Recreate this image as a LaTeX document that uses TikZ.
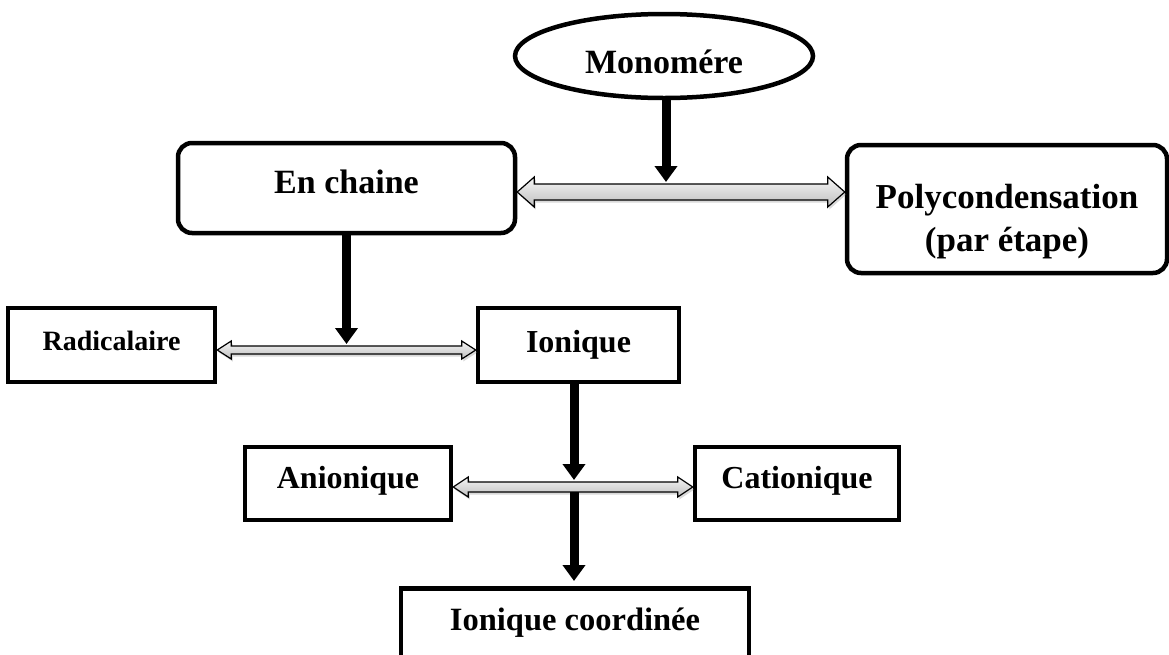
\documentclass[tikz,border=0pt]{standalone}
\usepackage{fontspec}
\setmainfont{Liberation Serif}
\usetikzlibrary{arrows.meta,calc,shapes.geometric,shadows}

% hollow two-headed arrow: left tip, right tip, shaft half, head half, head length
\newcommand{\biarrow}[5]{%
  \path[biarrow] (#1) -- ($(#1)+(#5,-#4)$) -- ($(#1)+(#5,-#3)$)
    -- ($(#2)+(-#5,-#3)$) -- ($(#2)+(-#5,-#4)$) -- (#2)
    -- ($(#2)+(-#5,#4)$) -- ($(#2)+(-#5,#3)$)
    -- ($(#1)+(#5,#3)$) -- ($(#1)+(#5,#4)$) -- cycle;}

\begin{document}
\begin{tikzpicture}[x=1pt,y=-1pt,
    box/.style={draw, line width=4.5pt, inner sep=0pt,
      font=\bfseries\fontsize{32}{38}\selectfont},
    onerow/.style={box, text height=#1, text depth=0pt},
    roundbox/.style={box, rounded corners=14pt},
    bigarrow/.style={line width=9pt, -{Triangle[length=16pt,width=22pt]}},
    biarrow/.style={draw=black, line width=1.2pt, top color=gray!8,
      bottom color=gray!50,
      drop shadow={shadow xshift=1.5pt, shadow yshift=-2.5pt, opacity=.3}}]
    \useasboundingbox (0,0) rectangle (1169,654);

    % Monomer
    \node[onerow=34pt, ellipse, minimum width=298, minimum height=84,
      font=\bfseries\fontsize{34}{40}\selectfont] (mono) at (664,56) {Monomére};

    % First level
    \node[roundbox, onerow=10pt, minimum width=337, minimum height=90,
      font=\bfseries\fontsize{34}{40}\selectfont] (chaine) at (346.5,188) {En chaine};
    \node[roundbox, minimum width=320, align=center,
      font=\bfseries\fontsize{35}{43}\selectfont] (poly) at (1007,209)
      {\rule{0pt}{63pt}Polycondensation\\(par étape)\rule[-22pt]{0pt}{22pt}};

    % Second level
    \node[onerow=10pt, minimum width=207, minimum height=74,
      font=\bfseries\fontsize{28}{34}\selectfont] (radical) at (111.5,345) {Radicalaire};
    \node[onerow=14pt, minimum width=201, minimum height=74] (ionique) at (578.5,345) {Ionique};

    % Third level
    \node[onerow=9pt, minimum width=206, minimum height=73] (anion) at (348,483.5) {Anionique};
    \node[onerow=9pt, minimum width=204, minimum height=73] (cation) at (797,483.5) {Cationique};

    % Bottom box, cut by the page edge
    \node[box, anchor=north, minimum width=348, inner ysep=10pt,
      text height=32pt, text depth=50pt,
      font=\bfseries\fontsize{32.5}{38}\selectfont] (coord) at (575,586) {Ionique coordinée};

    % Two-headed arrows
    \path ($(chaine.east)+(0,4)$) coordinate (c1);
    \path (c1 -| poly.west) coordinate (c2);
    \biarrow{c1}{c2}{8}{15}{17}
    \path ($(radical.east)+(0,5)$) coordinate (r1);
    \path (r1 -| ionique.west) coordinate (r2);
    \biarrow{r1}{r2}{4}{9}{14}
    \path ($(anion.east)+(0,3.5)$) coordinate (a1);
    \path (a1 -| cation.west) coordinate (a2);
    \biarrow{a1}{a2}{5}{10}{15}

    % Down arrows
    \draw[bigarrow] ($(mono.south)+(2,0)$) -- ($(mono.south |- c1)+(2,-10)$);
    \draw[bigarrow] (chaine.south) -- ($(chaine.south |- r1)+(0,-6)$);
    \draw[bigarrow] ($(ionique.south)+(-4.5,0)$) -- ($(ionique.south |- a1)+(-4.5,-7)$);
    \draw[bigarrow, shorten >=5pt] ($(ionique.south |- a1)+(-4.5,5)$) -- ($(coord.north)+(-1,0)$);
\end{tikzpicture}
\end{document}
